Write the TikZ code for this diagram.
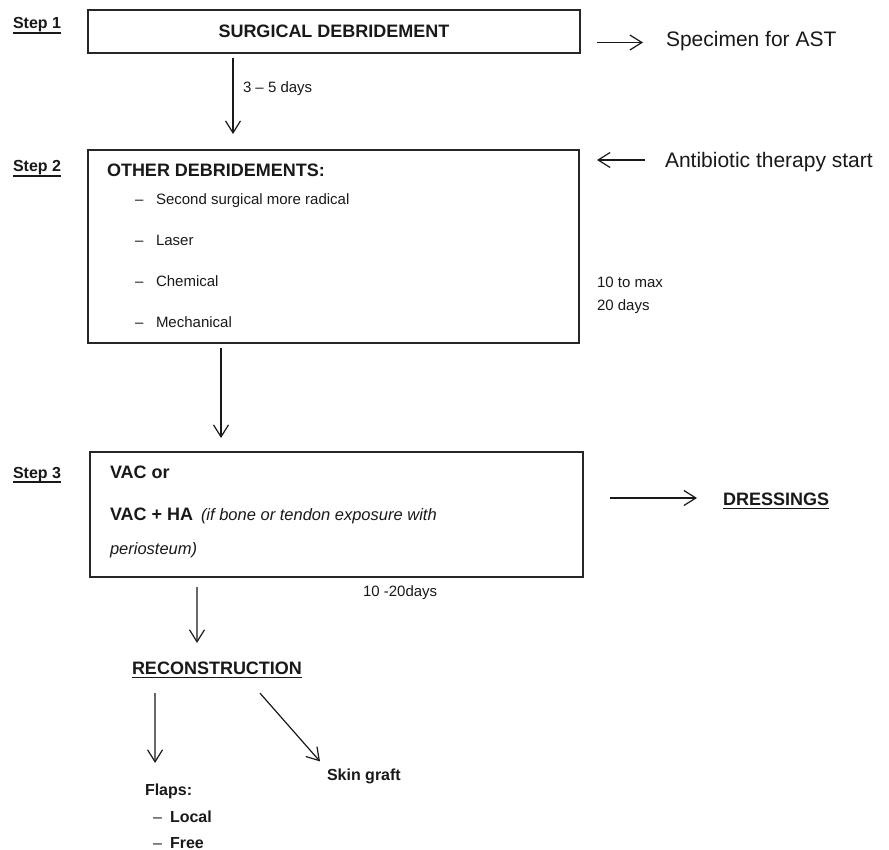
\documentclass[tikz,border=0pt]{standalone}
\usepackage{fontspec}
\setmainfont{Liberation Sans}
\usetikzlibrary{arrows.meta,calc}
\begin{document}
\begin{tikzpicture}[x=1pt,y=-1pt,
  every node/.style={inner sep=0pt, outer sep=0pt, text=black!90},
  box/.style={draw=black!85, line width=1.4pt, rectangle},
  arr/.style={draw=black!90, line width=1.2pt, -{Straight Barb[length=12pt,width=15pt]}},
  ulline/.style={draw=black!90, line width=1.6pt},
  steplbl/.style={font=\fontsize{16}{19}\selectfont\bfseries, anchor=base west},
  big/.style={font=\fontsize{18}{21}\selectfont\bfseries},
  bigl/.style={font=\fontsize{18}{21}\selectfont\bfseries, anchor=base west},
  side/.style={font=\fontsize{21}{25}\selectfont, anchor=base west},
  small/.style={font=\fontsize{15}{18}\selectfont, anchor=base west},
  italic/.style={font=\fontsize{16.5}{20}\selectfont\itshape, anchor=base west},
  midb/.style={font=\fontsize{16}{19}\selectfont\bfseries, anchor=base west},
  midr/.style={font=\fontsize{16}{19}\selectfont, anchor=base west}
]
\useasboundingbox (0,0) rectangle (889,850);

% boxes
\node[box, minimum width=492pt, minimum height=43pt, big] (b1) at (334,31.5) {SURGICAL DEBRIDEMENT};
\node[box, minimum width=491pt, minimum height=193pt] (b2) at (333.5,246.5) {};
\node[box, minimum width=493pt, minimum height=125pt] (b3) at (336.5,514.5) {};

% step labels
\node[steplbl] (s1) at (13,29) {Step 1};
\node[steplbl] (s2) at (13,172) {Step 2};
\node[steplbl] (s3) at (13,478) {Step 3};
\foreach \s in {s1,s2,s3}
  \draw[ulline] ($(\s.base west)+(0,4)$) -- ($(\s.base east)+(0,4)$);

% step 1 side
\node[side] (spec) at (666,47) {Specimen for AST};
\draw[arr] ($(b1.east)+(17,11)$) -- +(46,0);
\node[small] (d35) at (243,93) {3 – 5 days};
\draw[arr] ($(b1.south)+(-101,5)$) -- ($(b2.north)+(-100.5,-16)$);

% step 2 contents
\node[bigl] (other) at (107,177) {OTHER DEBRIDEMENTS:};
\node[small] (d1) at (135,205) {–};
\node[small] (i1) at (156,205) {Second surgical more radical};
\node[small] (d2) at (135,246) {–};
\node[small] (i2) at (156,246) {Laser};
\node[small] (d3) at (135,287) {–};
\node[small] (i3) at (156,287) {Chemical};
\node[small] (d4) at (135,328) {–};
\node[small] (i4) at (156,328) {Mechanical};

\node[side] (anti) at (665,167.5) {Antibiotic therapy start};
\draw[arr] ($(b2.east)+(66,-86.5)$) -- +(-48,0);
\node[small] (tmax) at (597,288) {10 to max};
\node[small] (tdays) at (597,311) {20 days};

\draw[arr] ($(b2.south)+(-112.5,5)$) -- ($(b3.north)+(-115.5,-14)$);

% step 3 contents
\node[bigl] (vac1) at (110,478) {VAC or};
\node[bigl] (vac2) at (110,520) {VAC + HA};
\node[italic] (vac2i) at (201,520) {(if bone or tendon exposure with};
\node[italic] (vac3) at (110,554) {periosteum)};

\node[bigl] (dress) at (723,505) {DRESSINGS};
\draw[ulline] ($(dress.base west)+(0,3.5)$) -- ($(dress.base east)+(0,3.5)$);
\draw[arr] ($(b3.east)+(27,-16.5)$) -- +(87,0);

\node[small] (t1020) at (363,596) {10 -20days};

% reconstruction
\node[bigl] (recon) at (132,674.5) {RECONSTRUCTION};
\draw[ulline] ($(recon.base west)+(0,3)$) -- ($(recon.base east)+(0,3)$);
\draw[arr] ($(b3.south)+(-139.5,10)$) -- ($(recon.north)+(-20,-19)$);

\node[midb] (flaps) at (145,795) {Flaps:};
\node[midr] (fd1) at (153,822) {–};
\node[midb] (local) at (170,822) {Local};
\node[midr] (fd2) at (153,848) {–};
\node[midb] (free) at (170,848) {Free};
\node[midb] (skin) at (327,780) {Skin graft};

\draw[arr] ($(recon.south)+(-62,18.5)$) -- ($(flaps.north)+(-13.5,-20.5)$);
\draw[arr] ($(recon.south)+(43,18.5)$) -- ($(skin.north west)+(-7,-7)$);
\end{tikzpicture}
\end{document}
